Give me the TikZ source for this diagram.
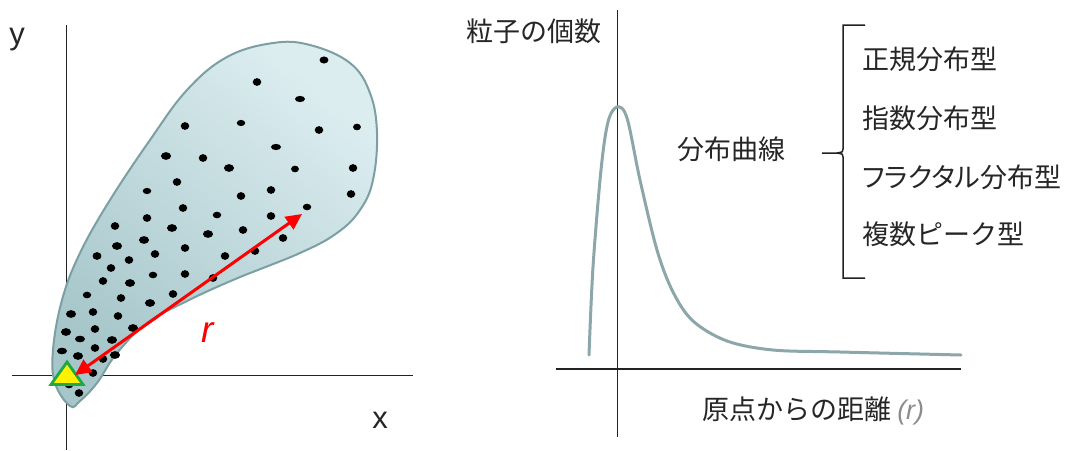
\documentclass[tikz,border=0pt]{standalone}
\usepackage{fontspec}
\setmainfont{Liberation Sans}
\newfontfamily\jp{Noto Sans CJK JP}
\newfontfamily\jpp[RawFeature=+palt]{Noto Sans CJK JP}
\usetikzlibrary{arrows.meta,shapes.geometric,calc}
\definecolor{blobedge}{HTML}{7B9FA2}
\definecolor{blobdark}{HTML}{A6C6CA}
\definecolor{bloblight}{HTML}{DCEDF0}
\definecolor{curvecol}{HTML}{8CA6A9}
\definecolor{axiscol}{HTML}{222222}
\definecolor{trigreen}{HTML}{1FA843}
\tikzset{
  axis/.style={draw=axiscol, line width=1.3pt},
  dot/.style={fill=black},
  jptext/.style={font=\jp\fontsize{27}{32}\selectfont, inner sep=0pt, text=black!85},
  lbl/.style={font=\fontsize{31}{36}\selectfont, inner sep=0pt, text=black!85},
  rarrow/.style={draw=red, line width=3pt, {Triangle[length=16pt,width=15pt]}-{Triangle[length=16pt,width=15pt]}},
  blobpath/.style={smooth cycle, tension=0.65},
}
\def\blobpts{(70,406) (55,383) (53,350) (62,300) (80,253) (110,200) (150,140) (187,90) (227,57)
   (273,43) (310,45) (350,63) (370,93) (377,133) (373,180) (360,210) (337,233)
   (300,253) (233,280) (183,303) (147,323) (117,353) (97,383) (80,401)}
\begin{document}
\begin{tikzpicture}[x=1pt,y=-1pt]
\useasboundingbox (0,0) rectangle (1065,450);
% ---------- left panel ----------
\coordinate (yt) at (66.5,25);
\coordinate (yb) at (66.5,450);
\coordinate (xl) at (12,375.5);
\coordinate (xr) at (413,375.5);
\draw[axis] (yt) -- (yb);
\draw[axis] (xl) -- (xr);
\begin{scope}
\expandafter\clip plot[blobpath] coordinates \blobpts;
\shade[shading=axis, top color=bloblight, bottom color=blobdark, shading angle=-40]
  (53,43) rectangle (377,406);
\end{scope}
\expandafter\draw[draw=blobedge, line width=2pt] plot[blobpath] coordinates \blobpts;
% dots
\foreach \px/\py/\rx/\ry in {
 324/60/4/3.2, 257/82/3.8/3.5, 300/99/4.5/2.8, 185/126/3.8/3.5, 241/123/3.8/2.8,
 319/130/3.8/3.5, 357/127/3.5/3, 276/147/4.5/2.8, 166/156/4.5/3.5, 203/158/3.8/3.5,
 229/168/4.5/3.5, 295/169/3.5/3, 353/168/3.8/3.5, 177/182/3.8/3.5, 147/191/3.8/2.8,
 241/196/3.8/3.5, 271/190/3.8/3.5, 351/194/3.8/3.5, 183/208/3.8/3.5, 307/207/3.8/3,
 147/218/3.8/3.5, 217/215/3.8/3, 271/216/3.8/3.5, 115/226/3.8/3.5, 172/228/4.5/3.5,
 208/234/4.5/3.5, 243/230/3.8/3.5, 283/238/3.8/3.5, 117/246/4.5/3.5, 144/240/4.5/3.5,
 185/248/3.8/3.5, 255/251/3.8/3.5, 97/256/4/3.5, 155/254/3.8/3.5, 129/260/3.8/3.5,
 225/256/3.8/3.5, 111/268/3.8/3.5, 153/275/3.8/3, 185/274/3.8/3.5, 213/278/3.8/3.5,
 103/281/3.8/3.5, 130/283/4.5/3.5, 87/295/3.8/3, 173/294/3.8/3.5, 121/298/3.8/3.5,
 150/303/4.5/3.5, 71/314/4.5/3.5, 93/312/3.8/3.5, 118/316/3.8/3.5, 66/332/4.5/3.5,
 95/329/3.8/3.5, 133/328/4.5/3.5, 80/339/4.5/3, 112/340/4.5/3.5, 62/351/4.5/3,
 95/348/3.8/3.5, 78/356/4.5/3.5, 103/359/3.8/3.5, 115/355/4.5/3.5, 93/373/3.8/3.5,
 69/385/3.8/3, 79/393/3.8/3.5}
 \fill[dot] (\px,\py) ellipse [x radius=1.12*\rx pt, y radius=1.1*\ry pt];
% origin marker and distance arrow
\coordinate (tri) at (67,377);
\draw[draw=trigreen, fill=yellow, line width=2.8pt, line join=miter]
  ($(tri)+(0,-15)$) -- ($(tri)+(16,7.5)$) -- ($(tri)+(-16,7.5)$) -- cycle;
\coordinate (rs) at (75,375);
\coordinate (re) at (302,214);
\draw[rarrow] (rs) -- (re);
\node[font=\itshape\fontsize{37}{40}\selectfont, text=red, inner sep=0pt] (rlab) at (208,333) {r};
\node[lbl, anchor=base] (ylab) at (17,44) {y};
\node[lbl, anchor=base] (xlab) at (380,428) {x};
% ---------- right panel ----------
\coordinate (vt) at (617.7,10);
\coordinate (vb) at (617.7,437);
\coordinate (hl) at (556,369);
\coordinate (hr) at (961,369);
\draw[axis] (vt) -- (vb);
\draw[axis] (hl) -- (hr);
\draw[draw=curvecol, line width=3pt, line cap=round]
  plot[smooth, tension=0.55] coordinates {
   (589,355) (593,267) (601,170) (608,122) (617,107) (627,118) (640,180) (657,250)
   (673,292) (693,321) (727,341) (773,350) (840,352) (961,355)};
\node[jptext] (ycap) at (534,31) {粒子の個数};
\node[jptext] (dist) at (731,149) {分布曲線};
\node[jptext, anchor=west] (i1) at (862,59) {正規分布型};
\node[jptext, anchor=west] (i2) at (862,118) {指数分布型};
\node[jptext, anchor=west, font=\jpp\fontsize{27}{32}\selectfont] (i3) at (862,177) {フラクタル分布型};
\node[jptext, anchor=west] (i4) at (862,234) {複数ピーク型};
\node[jptext, anchor=west] (xcap) at (702,411) {原点からの距離 {\fontspec{Liberation Sans}\itshape\color{black!45}(r)}};
% bracket
\coordinate (bt) at (865,25);
\coordinate (bb) at (865,278);
\coordinate (bm) at (822,153);
\draw[draw=axiscol, line width=1.5pt]
  (bt) -- (843,25) -- (843,149) .. controls (843,152) .. (837,153) -- (bm);
\draw[draw=axiscol, line width=1.5pt]
  (bb) -- (843,278) -- (843,157) .. controls (843,154) .. (837,153);
\end{tikzpicture}
\end{document}
